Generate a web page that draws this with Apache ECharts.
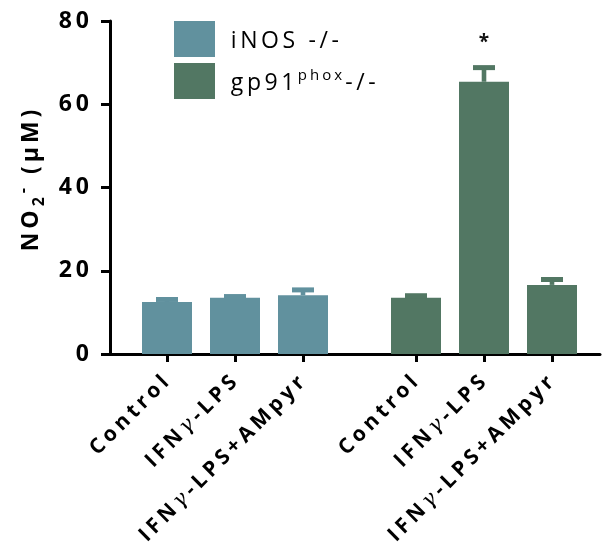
<!DOCTYPE html>
<html><head><meta charset="utf-8">
<script src="https://cdn.jsdelivr.net/npm/echarts@6/dist/echarts.min.js"></script>
<style>html,body{margin:0;padding:0;background:#fff;}#c{width:603px;height:543px;}</style>
</head><body><div id="c"></div>
<script>
// ---- data ----
var categories = ['Control', 'IFNγ-LPS', 'IFNγ-LPS+AMpyr'];
var seriesNames = ['iNOS -/-', 'gp91phox-/-'];
var iNOSMean = [12.5, 13.5, 14.1];
var iNOSErr = [0.6, 0.3, 1.3];
var gp91Mean = [13.5, 65.4, 16.6];
var gp91Err = [0.5, 3.4, 1.3];
var gp91Sig = ['', '*', ''];
var iNOSSig = ['', '', ''];
var yTicks = [0, 20, 40, 60, 80];

var FONT = 'Open Sans';
var C1 = '#61919E', C2 = '#527763';

function sp(text, style) {
  return Array.from(text).map(function (c) {
    var s = (c === 'γ') ? 'g' : style;
    return '{' + s + '|' + c + '}';
  }).join('');
}

var chart = echarts.init(document.getElementById('c'), null, {renderer: 'canvas'});

function errRender(color, sig) {
  return function (params, api) {
    var i = api.value(0), m = api.value(1), e = api.value(2);
    var b = api.coord([i, m]);
    var t = api.coord([i, m + e]);
    var children = [
      {type: 'rect', shape: {x: b[0] - 2.3, y: t[1], width: 4.6, height: b[1] - t[1]}, style: {fill: color}},
      {type: 'rect', shape: {x: b[0] - 11, y: t[1] - 2.5, width: 22, height: 5}, style: {fill: color}}
    ];
    var s = sig[params.dataIndex];
    if (s) {
      children.push({type: 'text', style: {text: s, x: b[0], y: t[1] - 25, align: 'center', verticalAlign: 'middle',
        font: 'bold 19px ' + FONT, fill: '#111'}});
    }
    return {type: 'group', children: children};
  };
}

var xLabelRich = {
  c: {fontFamily: FONT, fontWeight: 'bold', fontSize: 21, color: '#000', padding: [0, 2, 0, 2]},
  g: {fontFamily: 'DejaVu Serif', fontStyle: 'italic', fontWeight: 'normal', fontSize: 21, color: '#000', padding: [0, 2, 0, 2]}
};

function catAxis(idx) {
  return {
    type: 'category', gridIndex: idx, data: categories,
    axisLine: {show: false},
    axisTick: {show: true, alignWithLabel: true, length: 8, lineStyle: {width: 3, color: '#000'}},
    axisLabel: {rotate: 45, margin: 24, formatter: function (v) { return sp(v, 'c'); }, rich: xLabelRich},
    splitLine: {show: false}
  };
}
function hiddenY(idx) {
  return {type: 'value', gridIndex: idx, min: 0, max: 80, show: false};
}

var option = {
  animation: false,
  grid: [
    {left: 110, right: 3, top: 21, bottom: 189, outerBoundsMode: 'none', containLabel: false},
    {left: 133, width: 204, top: 21, bottom: 189, outerBoundsMode: 'none', containLabel: false},
    {left: 382, width: 204, top: 21, bottom: 189, outerBoundsMode: 'none', containLabel: false}
  ],
  xAxis: [
    {type: 'value', gridIndex: 0, min: 0, max: 1, axisLine: {show: true, lineStyle: {width: 3, color: '#000'}},
      axisTick: {show: false}, axisLabel: {show: false}, splitLine: {show: false}},
    catAxis(1), catAxis(2)
  ],
  yAxis: [
    {type: 'value', gridIndex: 0, min: 0, max: 80, interval: 20,
      axisLine: {show: true, lineStyle: {width: 3, color: '#000'}},
      axisTick: {show: true, length: 9, lineStyle: {width: 3, color: '#000'}},
      splitLine: {show: false},
      axisLabel: {margin: 19, formatter: function (v) { return sp(String(v), 'd'); },
        rich: {d: {fontFamily: FONT, fontWeight: 'bold', fontSize: 23, color: '#000', padding: [0, 2, 0, 2]}}},
      name: '{n|N}{n|O}{sub|2}{sup|-}{n| }{n|(}{n|µ}{n|M}{n|)}',
      nameLocation: 'middle', nameRotate: 90, nameGap: 58,
      nameTextStyle: {padding: [0, 0, 0, 14], rich: {
        n: {fontFamily: FONT, fontWeight: 'bold', fontSize: 23, color: '#000', padding: [0, 2, 0, 2], lineHeight: 32},
        sub: {fontFamily: FONT, fontWeight: 'bold', fontSize: 16, color: '#000', padding: [0, 2, 0, 2], verticalAlign: 'bottom'},
        sup: {fontFamily: FONT, fontWeight: 'bold', fontSize: 16, color: '#000', padding: [0, 2, 0, 2], verticalAlign: 'top'}
      }}
    },
    hiddenY(1), hiddenY(2)
  ],
  legend: {
    orient: 'vertical', left: 169, top: 16, itemWidth: 41, itemHeight: 36, itemGap: 6, icon: 'rect',
    data: seriesNames,
    formatter: function (name) {
      if (name === seriesNames[1]) {
        return '{gap| }' + sp('gp91', 't') + sp('phox', 'sup') + sp('-/-', 't');
      }
      return '{gap| }' + sp(name, 't');
    },
    textStyle: {padding: [4, 0, 0, 0], rich: {
      gap: {width: 9},
      t: {fontFamily: FONT, fontSize: 23, color: '#000', padding: [0, 1.8, 0, 1.8], lineHeight: 30},
      sup: {fontFamily: FONT, fontSize: 15, color: '#000', padding: [0, 1.5, 0, 1.5], verticalAlign: 'top'}
    }}
  },
  series: [
    {name: seriesNames[0], type: 'bar', xAxisIndex: 1, yAxisIndex: 1, data: iNOSMean, barWidth: 50,
      itemStyle: {color: C1}},
    {name: seriesNames[1], type: 'bar', xAxisIndex: 2, yAxisIndex: 2, data: gp91Mean, barWidth: 50,
      itemStyle: {color: C2}},
    {type: 'custom', xAxisIndex: 1, yAxisIndex: 1, renderItem: errRender(C1, iNOSSig),
      data: iNOSMean.map(function (m, i) { return [i, m, iNOSErr[i]]; }), z: 3},
    {type: 'custom', xAxisIndex: 2, yAxisIndex: 2, renderItem: errRender(C2, gp91Sig),
      data: gp91Mean.map(function (m, i) { return [i, m, gp91Err[i]]; }), z: 3}
  ]
};
chart.setOption(option);
</script></body></html>
